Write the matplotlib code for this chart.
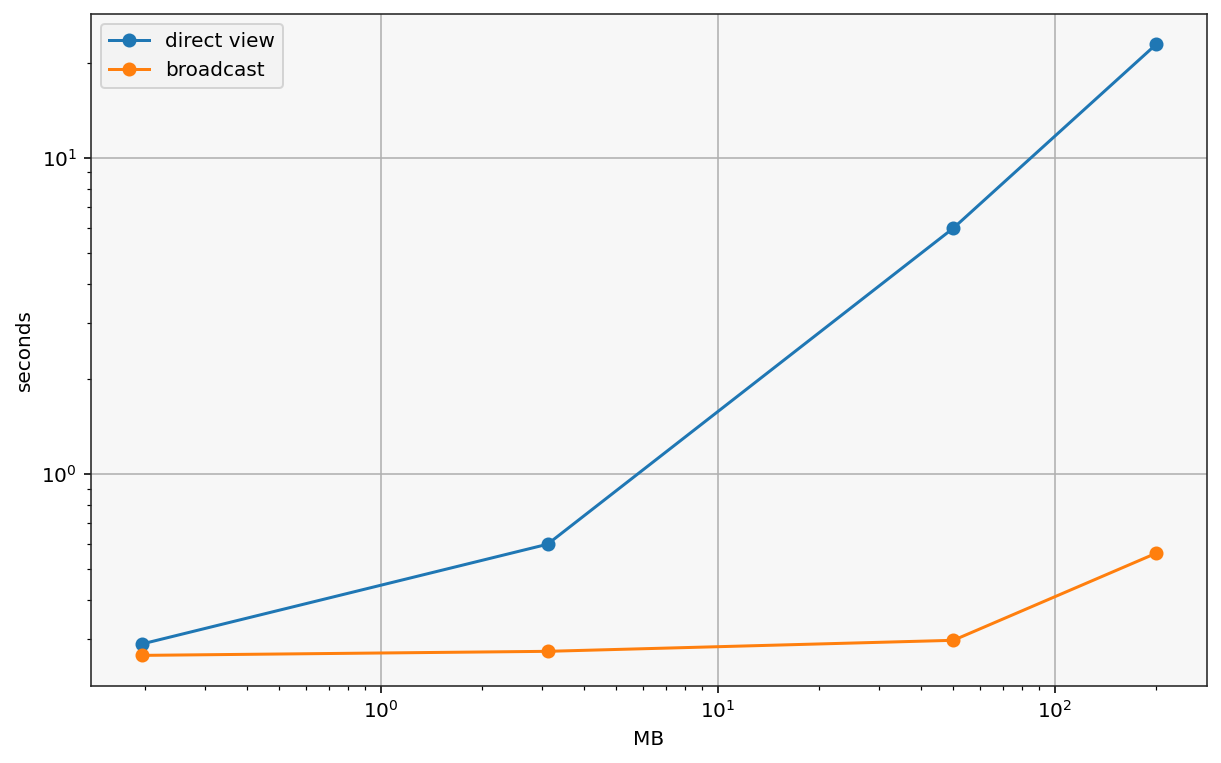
import matplotlib
matplotlib.use('Agg')
import matplotlib.pyplot as plt

# data sizes (MB) and timings (seconds)
sizes_mb = [0.1953, 3.125, 50, 200]
direct_view = [0.29, 0.60, 6.0, 22.9]
broadcast = [0.267, 0.275, 0.298, 0.562]

DPI = 144
fig, ax = plt.subplots(figsize=(1221 / DPI, 763 / DPI), dpi=DPI)
fig.subplots_adjust(left=0.0745, right=0.9885, top=0.982, bottom=0.101)
ax.set_facecolor('#f7f7f7')

ax.plot(sizes_mb, direct_view, marker='o', color='#1f77b4', label='direct view')
ax.plot(sizes_mb, broadcast, marker='o', color='#ff7f0e', label='broadcast')

ax.set_xscale('log')
ax.set_yscale('log')
ax.grid(True, which='major', color='#b0b0b0', linewidth=0.8)
ax.set_axisbelow(True)
for s in ax.spines.values():
    s.set_color('#262626')

ax.set_xlabel('MB')
ax.set_ylabel('seconds')
ax.legend(loc='upper left', facecolor='#f2f2f2')

plt.savefig('out.png', dpi=DPI)
